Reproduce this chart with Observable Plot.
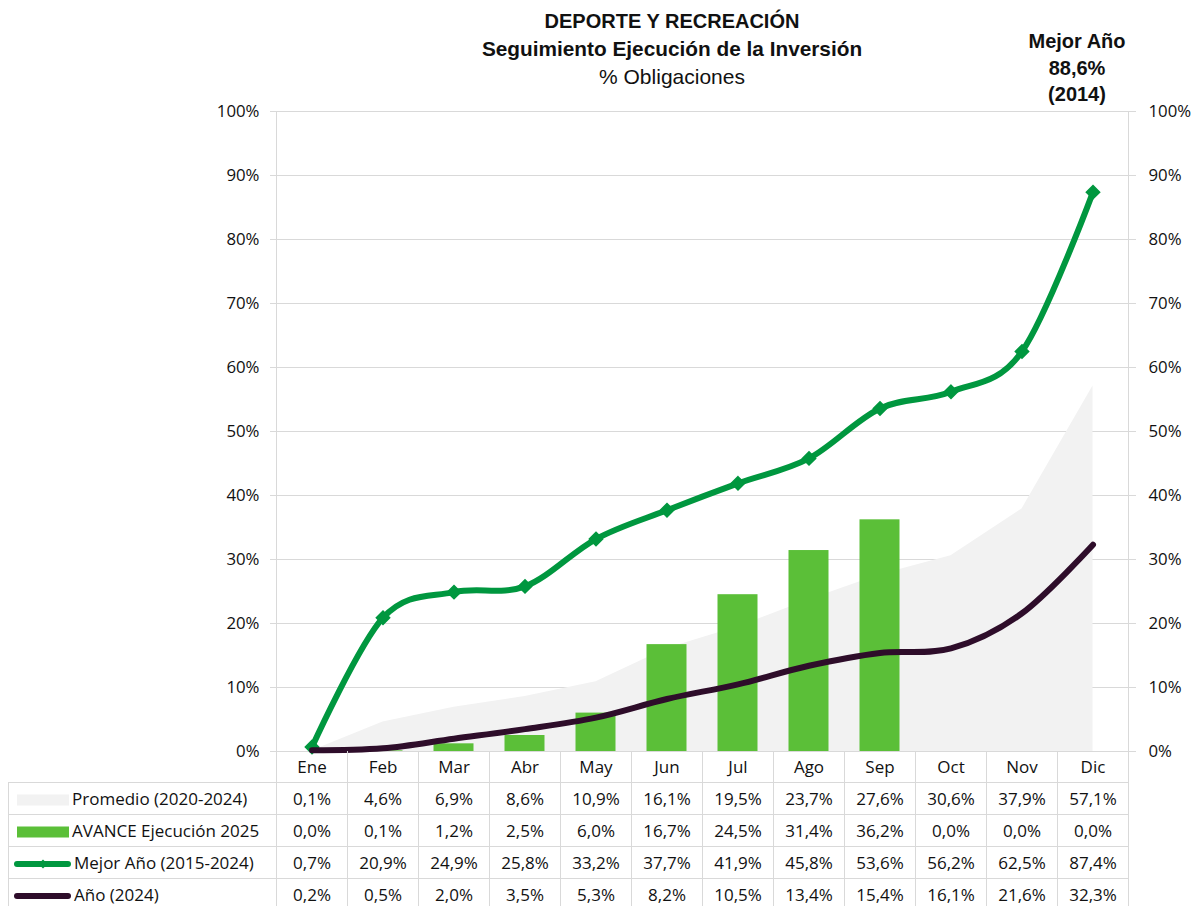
<!DOCTYPE html>
<html><head><meta charset="utf-8">
<script src="https://cdn.jsdelivr.net/npm/d3@7"></script>
<script src="https://cdn.jsdelivr.net/npm/@observablehq/plot@0.6"></script>
<style>
body{margin:0;background:#fff;}
#wrap{position:relative;width:1200px;height:906px;overflow:hidden;font-family:"Open Sans",sans-serif;color:#111;}
#chart{position:absolute;left:0;top:0;}
.title{position:absolute;text-align:center;font-family:"Liberation Sans Narrow","Liberation Sans",sans-serif;font-size:20px;line-height:27px;color:#111;white-space:nowrap;}
#tbl{position:absolute;left:8px;top:751px;border-collapse:collapse;table-layout:fixed;font-size:17px;}
#tbl td{border:1px solid #d9d9d9;height:31px;padding:0;text-align:center;white-space:nowrap;overflow:hidden;}
#tbl td.lab{text-align:left;}
#tbl td.lab svg{vertical-align:middle;margin-right:3px;}
#tbl tr.hdr td{border-top:none;}
#tbl tr.hdr td.blank{border-left:none;}
</style></head>
<body><div id="wrap">
<div id="chart"></div>
<div class="title" style="left:372px;width:600px;top:8px;"><b>DEPORTE Y RECREACIÓN</b><br><b style="font-size:20.8px">Seguimiento Ejecución de la Inversión</b><br><span style="font-size:21px">% Obligaciones</span></div>
<div class="title" style="left:1017px;width:120px;top:28px;line-height:26.5px;font-weight:bold;">Mejor Año<br>88,6%<br>(2014)</div>
<table id="tbl"></table>
</div>
<script>
const months = ["Ene","Feb","Mar","Abr","May","Jun","Jul","Ago","Sep","Oct","Nov","Dic"];
const promedio = [0.1,4.6,6.9,8.6,10.9,16.1,19.5,23.7,27.6,30.6,37.9,57.1];
const avance = [0.0,0.1,1.2,2.5,6.0,16.7,24.5,31.4,36.2,0.0,0.0,0.0];
const mejor = [0.7,20.9,24.9,25.8,33.2,37.7,41.9,45.8,53.6,56.2,62.5,87.4];
const anio = [0.2,0.5,2.0,3.5,5.3,8.2,10.5,13.4,15.4,16.1,21.6,32.3];
const yTicks = [0,10,20,30,40,50,60,70,80,90,100];
const seriesNames = ["Promedio (2020-2024)","AVANCE Ejecución 2025","Mejor Año (2015-2024)","Año (2024)"];

const C = {area:"#f2f2f2", bar:"#5bbf38", best:"#00973f", year:"#2e0d2a", grid:"#d9d9d9", text:"#111"};

const data = months.map((m,i)=>({month:m, promedio:promedio[i], avance:avance[i], mejor:mejor[i], anio:anio[i]}));
const fmtPct = d => d + "%";

const chart = Plot.plot({
  width:1200, height:760,
  marginTop:111, marginBottom:9, marginLeft:276, marginRight:72,
  style:{fontFamily:"Open Sans, sans-serif", fontSize:"16.5px", color:C.text, background:"transparent", overflow:"visible"},
  x:{type:"band", domain:months, padding:0, axis:null},
  y:{domain:[0,100], axis:null},
  marks:[
    Plot.gridY(yTicks, {stroke:C.grid, strokeOpacity:1}),
    Plot.frame({stroke:C.grid}),
    Plot.axisY(yTicks, {anchor:"left", tickSize:6, tickPadding:11, tickFormat:fmtPct, stroke:C.grid, fill:C.text, label:null, fontSize:16.8}),
    Plot.axisY(yTicks, {anchor:"right", tickSize:7, tickPadding:13, tickFormat:fmtPct, stroke:C.grid, fill:C.text, label:null, fontSize:16.8}),
    Plot.areaY(data, {x:"month", y:"promedio", fill:C.area}),
    Plot.barY(data, {x:"month", y:"avance", fill:C.bar, insetLeft:15.5, insetRight:15.5}),
    Plot.lineY(data, {x:"month", y:"mejor", stroke:C.best, strokeWidth:6, curve:"cardinal", strokeLinecap:"round", strokeLinejoin:"round"}),
    Plot.dot(data, {x:"month", y:"mejor", symbol:"diamond2", r:6, fill:C.best, stroke:C.best}),
    Plot.lineY(data, {x:"month", y:"anio", stroke:C.year, strokeWidth:6, curve:"cardinal", strokeLinecap:"round", strokeLinejoin:"round"})
  ]
});
document.getElementById("chart").appendChild(chart);

// data table
const fmtVal = v => v.toFixed(1).replace(".", ",") + "%";
const swatch = k => {
  if (k === 0) return `<svg width="60" height="14"><rect x="8" y="1.5" width="52" height="11" fill="${C.area}"/></svg>`;
  if (k === 1) return `<svg width="60" height="14"><rect x="8" y="1.5" width="52" height="11" fill="${C.bar}"/></svg>`;
  if (k === 2) return `<svg width="62" height="14"><line x1="8" y1="7" x2="59" y2="7" stroke="${C.best}" stroke-width="6" stroke-linecap="round"/><path d="M34 2.5 L38.5 7 L34 11.5 L29.5 7Z" fill="${C.best}"/></svg>`;
  return `<svg width="62" height="14"><line x1="8" y1="7" x2="59" y2="7" stroke="${C.year}" stroke-width="6" stroke-linecap="round"/></svg>`;
};
const rows = [promedio, avance, mejor, anio];
let html = `<colgroup><col style="width:268px">` + months.map(()=>`<col style="width:71px">`).join("") + `</colgroup>`;
html += `<tr class="hdr"><td class="blank" style="border-left:none"></td>` + months.map(m=>`<td>${m}</td>`).join("") + `</tr>`;
rows.forEach((r,k)=>{
  html += `<tr><td class="lab">${swatch(k)}${seriesNames[k]}</td>` + r.map(v=>`<td>${fmtVal(v)}</td>`).join("") + `</tr>`;
});
const tbl = document.getElementById("tbl");
tbl.innerHTML = html;
tbl.style.width = (268 + 71*12) + "px";
</script>
</body></html>
